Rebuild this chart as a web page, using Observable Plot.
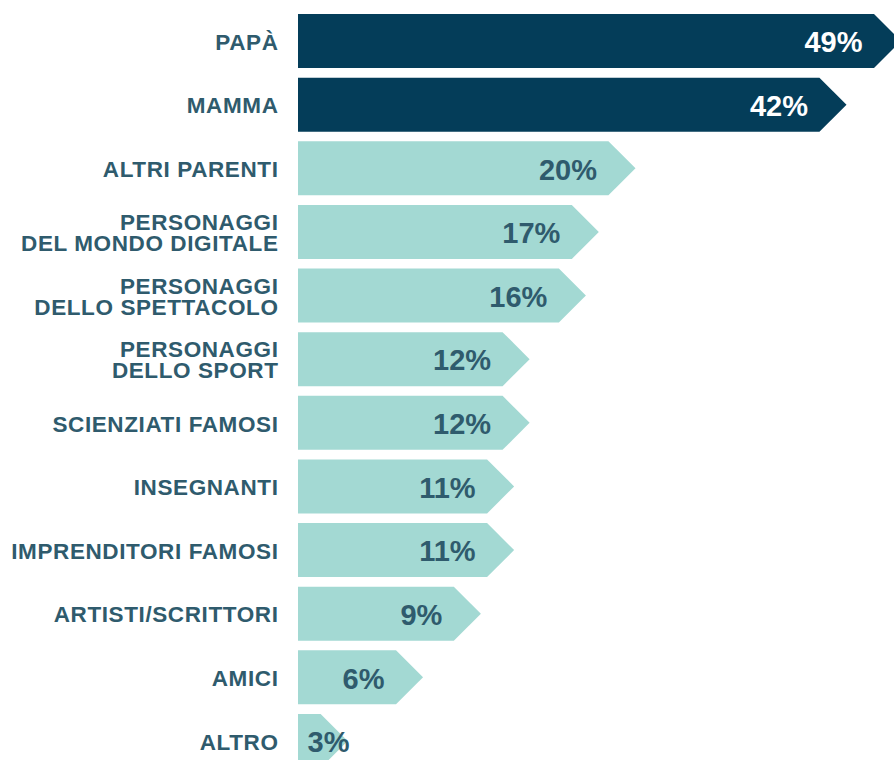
<!DOCTYPE html>
<html><head><meta charset="utf-8">
<script src="https://cdn.jsdelivr.net/npm/d3@7"></script>
<script src="https://cdn.jsdelivr.net/npm/@observablehq/plot@0.6"></script>
<style>
html,body{margin:0;padding:0;background:#fff;overflow:hidden;}
</style></head><body><div id="chart"></div>
<script>
const categories = ["PAPÀ","MAMMA","ALTRI PARENTI","PERSONAGGI\nDEL MONDO DIGITALE","PERSONAGGI\nDELLO SPETTACOLO","PERSONAGGI\nDELLO SPORT","SCIENZIATI FAMOSI","INSEGNANTI","IMPRENDITORI FAMOSI","ARTISTI/SCRITTORI","AMICI","ALTRO"];
const values = [49,42,20,17,16,12,12,11,11,9,6,3];
const highlighted = ["PAPÀ","MAMMA"];

const data = categories.map((c,i)=>({category:c, value:values[i], highlight: highlighted.includes(c)}));
const DARK="#043d59", LIGHT="#a3d9d3", INK="#2f5b6d";
const X0 = 2.3;

function arrowRender(index, scales, vals, dimensions, context, next) {
  const g = next(index, scales, vals, dimensions, context);
  d3.select(g).selectAll("rect").each(function(){
    const r = d3.select(this);
    const x=+r.attr("x"), y=+r.attr("y"), w=+r.attr("width"), h=+r.attr("height");
    const t=h/2;
    const p = document.createElementNS("http://www.w3.org/2000/svg","path");
    p.setAttribute("d", `M${x},${y}H${x+w}L${x+w+t},${y+t}L${x+w},${y+h}H${x}Z`);
    if (r.attr("fill")) p.setAttribute("fill", r.attr("fill"));
    this.replaceWith(p);
  });
  return g;
}
function spaced(index, scales, vals, dimensions, context, next) {
  const g = next(index, scales, vals, dimensions, context);
  g.setAttribute("letter-spacing", "0.6");
  return g;
}

const plot = Plot.plot({
  width: 894, height: 768,
  marginLeft: 298, marginRight: 20, marginTop: 14, marginBottom: 0,
  x: {type: "sqrt", domain: [X0, 49], axis: null},
  y: {domain: categories, paddingInner: 0.15, paddingOuter: 0, round: false, axis: null},
  color: {type: "identity"},
  style: {fontFamily: "'Liberation Sans', Arial, sans-serif", background: "white"},
  marks: [
    Plot.barX(data, {y: "category", x1: X0, x2: "value", fill: d => d.highlight ? DARK : LIGHT, render: arrowRender}),
    Plot.text(data, {y: "category", text: "category", frameAnchor: "left", textAnchor: "end", dx: -20, dy: 1.5,
      fontSize: 22.5, fontWeight: 700, fill: INK, lineHeight: 0.93, render: spaced}),
    Plot.text(data.filter(d => d.value >= 5), {y: "category", x: "value", text: d => d.value + "%", textAnchor: "end", dx: -12, dy: 1.5,
      fontSize: 29, fontWeight: 700, fill: d => d.highlight ? "white" : INK}),
    Plot.text(data.filter(d => d.value < 5), {y: "category", x: X0, text: d => d.value + "%", textAnchor: "start", dx: 9, dy: 1.5,
      fontSize: 29, fontWeight: 700, fill: d => d.highlight ? "white" : INK})
  ]
});
document.getElementById("chart").appendChild(plot);
</script>
</body></html>
